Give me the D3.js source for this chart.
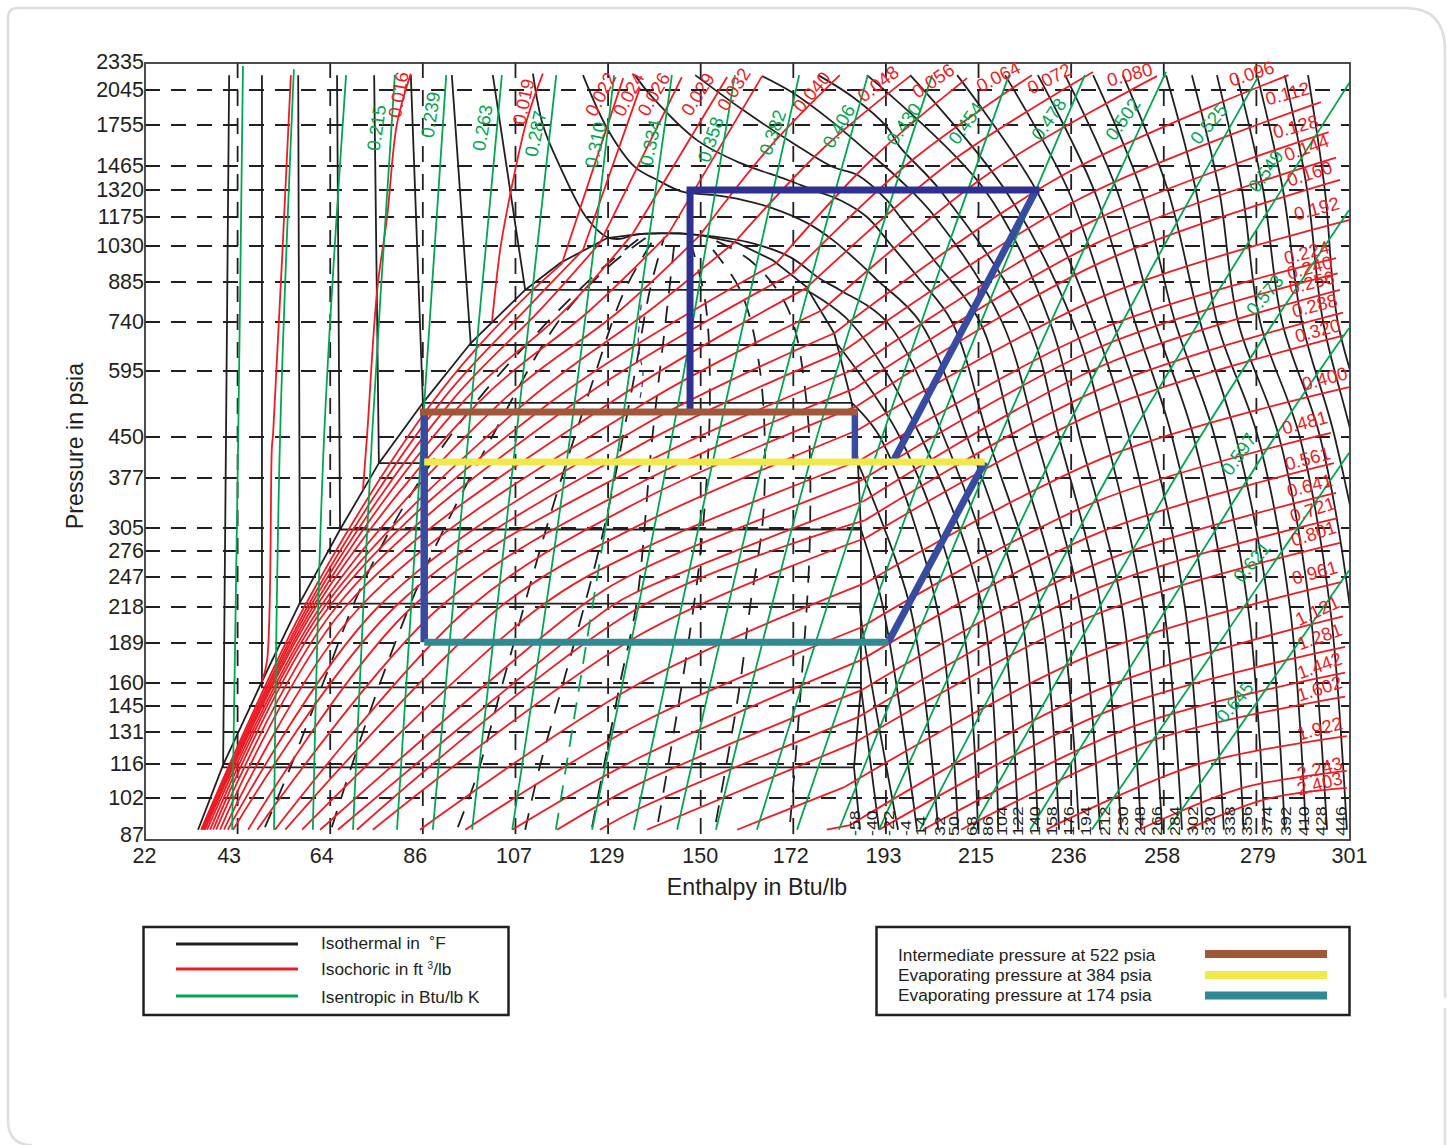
<!DOCTYPE html>
<html><head><meta charset="utf-8"><title>Pressure-enthalpy chart</title>
<script src="https://cdn.jsdelivr.net/npm/d3@7"></script>
<style>html,body{margin:0;padding:0;background:#fff}svg{display:block}text{font-family:"Liberation Sans",Arial,sans-serif;fill:#231f20}</style>
</head><body><svg id="c" width="1447" height="1145"></svg>
<script>
// ---------- axes ----------
const enthalpyRange = [22, 301];
const enthalpyTicks = [22,43.46,64.92,86.38,107.85,129.31,150.77,172.23,193.69,215.15,236.62,258.08,279.54,301];
const enthalpyLabels = ["22","43","64","86","107","129","150","172","193","215","236","258","279","301"];
const pressureTicks = [87,102,116,131,145,160,189,218,247,276,305,377,450,595,740,885,1030,1175,1320,1465,1755,2045,2335];

// ---------- saturation dome ----------
const domeH = [34.3,40.1,49.1,57.9,67.2,76.2,86.4,97.5,110.1,118.2,129.1,136.7,146,150.6,159.2,167.5,175.2,181.7,185.8,187.2,187.9,187.9,187.9,186.3];
const domeP = [89,115.6,161,222,303,402,520,674,854,959,1068,1088,1092,1082,1045,970,867,704,520,402,303,222,157,114.5];

// ---------- isotherms (deg F) ----------
const isoTemps = [-58,-40,-22,-4,14,32,50,68,86,104,122,140,158,176,194,212,230,248,266,284,302,320,338,356,374,392,410,428,446];
const plateauP = [114.5,157,221,303,402,520,668,854];
const liquidTopH = [41.5,49.1,57.5,66.5,75.1,83.6,93.1,102.6];
const liquidSatH = [40.1,49.1,57.9,67.2,76.2,86.4,97.5,110.1];
const vaporSatH = [186.3,187.9,187.9,187.9,187.2,185.8,182.6,175.2];
const vaporH89 = [187.7,192.1,196.5,200.9,205.8,210.4,215,219.7,224.3,228.9,233.8,238.4,243.3,248.2,252.8,257.7,262.3,267.1,272,276.6,281.5,286.1,291,295.9,300.5,305.4,310,314.7,319.3];
const vaporH218 = [null,null,187.7,193,199.3,205.5,210.8,216,220.1,224.8,229.4,234,238.7,243.5,248.4,253.3,258.1,263,267.8,272.7,277.6,282.4,287.3,291.9,296.6,301.2,305.4,310,314.7];
const vaporH450 = [null,null,null,null,null,192.3,196.9,201.8,207.1,212.5,217.3,223.1,228.5,233.8,238.6,244.7,250,254.9,260,265,269.9,274.8,279.9,284.8,289.6,294.3,297.7,301.7,305.8];
const vaporH740 = [null,null,null,null,null,null,null,185.4,193.9,201.6,209,215.5,220.6,226.4,231.7,237,241.7,246.3,251.4,256,260.7,266.5,270.4,275.3,280.4,285.5,290.1,295,298.4];
const vaporH1320 = [null,null,null,null,null,null,null,null,null,null,null,null,null,206.2,216.6,221.3,228.5,235.9,241.9,247.2,252.8,259,265.5,270.9,276.2,281.1,285.7,291.3,295.4];
const vaporH2194 = [null,null,null,null,null,null,null,null,null,null,null,null,null,null,189.3,199.3,210.2,221.3,228.9,235.2,241.7,248.6,258.6,264.6,270.4,275,279.7,286.1,291.5];
const iso86H = [111.9,114.2,118.2,124.2,129.1,132.1,135.1,141.3,150.6,161.5,171.5,178.4,183];
const iso86P = [2210,1755,1460,1175,1072,1064,1082,1092,1082,1049,983,897,854];
const iso104H = [123.5,129.3,135.5,140.6,146.7,153.6,160.6,167.5,175.4,181.4,187.7,191.6];
const iso104P = [2194,1717,1459,1380,1309,1292,1264,1220,1144,1058,956,893];
const iso122H = [135.5,139.7,149.9,159.9,170.8,176.8,183,189.3,194.5,201];
const iso122P = [2194,1975,1642,1485,1380,1320,1264,1175,1044,905];
const iso140H = [149.5,160.6,172.2,181.4,187,193.9,197,205.1];
const iso140P = [2194,1873,1620,1459,1410,1264,1175,965];
const iso158H = [165,172.2,180.7,189.3,196.9,205.1];
const iso158P = [2184,2018,1795,1564,1380,1175];
const iso176H = [178,186,193.9,196.9];
const iso176P = [2194,1983,1740,1594];

// ---------- isochores (ft3/lb) ----------
const isochoreLabels = ["0.022","0.024","0.026","0.029","0.032","0.040","0.048","0.056","0.064","0.072","0.080","0.096","0.112","0.128","0.144","0.160","0.192","0.224","0.240","0.256","0.288","0.320","0.400","0.481","0.561","0.641","0.721","0.801","0.961","1.121","1.281","1.442","1.602","1.922","2.243","2.403"];
const isoH89 = [35,35.2,35.5,35.7,35.9,36.4,37.1,37.8,38.5,39.4,40.3,41.2,42.4,45.9,48,52.1,54.5,58.4,62.6,66.7,71.1,74.8,85.7,96.2,107.1,117.5,127.4,138.3,159.2,180,192.1,202.3,211.1,230.8,252.3,263.4];
const isoH218 = [58.9,59.6,60.2,60.9,61.6,62.6,63.5,64.6,66.3,68.4,71.8,76,79.9,83.9,90.4,97.3,104.3,113.5,122.8,129.8];
const isoH520 = [88.5,90.4,92.7,95.5,99.2,104.3,110.1,115.8,121.6,129.8,137.9];
const isoH780 = [107.1,110.1,113.5,119.3,125.1,132.1,139];
const isoPAtH137 = [null,null,null,null,null,null,null,null,null,null,null,469,434.5,398,369,342,309,277,254,233.5,218,195.3,160,135.4,119,107.8,97.6];
const domeCrossH = [118.6,123.5,127.4,135.1,143.2,150.6,158.7,168.4,172.1,175.2,178.9,181.7,184.2,185.8,186.5,187,187.2,187.7,188.2,188.6,188.8,189,189,187.9,187.9,187.9,187.4,186.3,184.2,185.4];
const domeCrossP = [956,1013,1044,1091,1086,1082,1049,960,918,861,780,704,653,597,553,513,463.5,407,374,342,315,292,241,201,176,155,139,125.6,106.4,90.8];
const isoMidH = [null,null,null,null,null,166.8,179,190.5,199.8,208.4,217.7,234,239.4,241.1,242.2,242.9,244.1,242.8,243.3,243.8,244.2,244.6,245,242.4,242.7,242.9,242.9,242.6,241.8,242.5,246.1,251.2,255.6,265.6,276.4,282];
const isoMidP = [null,null,null,null,null,1594,1579,1511,1504,1485,1421,1398,1281,1148,1041,956,831,714,662,609,555,508,414,341,298,262,236,212,180.6,155,143,134,127,115.6,106,101.6];
const isoEndH = [132.8,136.7,146.4,156.9,165,183,199.3,212.5,227.5,241.7,256.5,287,294.5,296.3,298,298.9,301,298,298.4,298.9,299.6,300.1,301,296.8,297.5,298,298.4,298.9,299.4,299.6,300.1,300.1,300.1,300.5,300.5,300.5];
const isoEndP = [2163,2066,2174,2174,2184,2194,2184,2163,2194,2228,2184,2194,1940,1701,1520,1380,1159,979,918,854,772,698,556,458,402,354,318,286,242,210,186,167,151,129,113,106];
const liquidIso0H = [55.8,51.7,51.4,50.3,49.1];
const liquidIso0P = [2194,458,430,176,161];
const liquidIso016H = [83.6,80.4,78.1,75.8,73.5,72.5];
const liquidIso016P = [2210,1765,1175,854,458,358];
const liquidIso019H = [114.2,110.5,105.9,104.3,102.4];
const liquidIso019P = [2210,1795,1209,1013,740];

// ---------- isentropes (Btu/lb K) ----------
const isentropeLabels = ["","","","0.215","0.239","0.263","0.287","0.310","0.334","0.358","0.382","0.406","0.430","0.454","0.478","0.502","0.525","0.549","0.573","0.597","0.621","0.645"];
const entropyBottomH = [42.2,51.9,60.9,70.2,80.4,88.7,97.8,107.1,128.1,125.6,135.3,145.3,154.3,163.8,173.1,182.8,192.1,201.6,213.6,227.1,241.4,259];
const entropyBottomP = [89,89,89,89,89,89,89,89,286,89,89,89,89,89,89,89,89,89,89,89,89,89];
const entropyMidH = [43.6,53.3,63.5,74.6,86.2,96.9,108,120.5,132.1,144.1,154.8,166.6,177.7,192.8,205.1,220.1,234.5,250.3,266.5,283.8,null,null];
const entropyTopH = [44.7,56.5,68.6,79.9,91.8,104.7,117.3,130.7,144.1,158.7,173.6,189.5,204.4,222.2,239.8,258.6,279.9,301.6,301,301,301,301];
const entropyTopP = [2290,2257,2194,2194,2194,2194,2194,2194,2194,2194,2194,2194,2194,2194,2194,2228,2174,2150,1210,720,420,254];
const entropy334DashH = [117.2,128.1];
const entropy334DashP = [89,286];

// ---------- dashed quality lines inside the dome ----------
const qualityH = [
 [49.8,54.9,64.2,71.8,82.7,97.3,113.5,127.4,136.7],
 [65.3,69.5,77.6,88,102,118.2,129.8,138.6],
 [94.5,98.9,105.9,115.8,125.1,133.2,140.2],
 [110.1,113.5,118.9,128.1,134.8,139,142.3],
 [125.6,132.1,136,139.5,143.2,144.8],
 [140.9,147.4,151.1,152.9,151.8,148.3],
 [154.3,159.6,162.2,165.4,164.5,159.9,151.8],
 [171.5,173.5,176.1,175.2,170.8,162.2,154.1]];
const qualityP = [
 [90,111,167,234,342,505,714,929,1068],
 [90,113,169,267,444,750,950,1077],
 [90,111,170.8,320,549,854,1072],
 [89,115,160,298,549,854,1072],
 [90,160,224,444,814,1068],
 [92,178,294,530,814,1056],
 [92,154,218,333,597,854,1056],
 [92,139,298,530,791,970,1056]];
const thinBlueH = [137,136.3,137.4,136.7];
const thinBlueP = [800,668,585,530];

// ---------- refrigeration cycle ----------
const cycleTopH = [147.5,229.3], cycleTopP = [1320,1320];
const cycleUpH = [148.3,148.3], cycleUpP = [500,1320];
const cycleDisch1H = [228.5,195.3], cycleDisch1P = [1320,404];
const cycleDisch2H = [216.6,194.2], cycleDisch2P = [404,189.5];
const cycleLeftH = [86.7,86.7], cycleLeftP = [500,189.5];
const cycleShortH = [186.5,186.5], cycleShortP = [500,404];
const intermediateH = [85.7,187.2], intermediateP = 500;
const evap384H = [86.7,216.6], evap384P = 404;
const evap174H = [86.7,194.2], evap174P = 189.5;

// ---------- text ----------
const legendLeft = ["Isothermal in  \u02daF","Isochoric in ft ","Isentropic in Btu/lb K"];
const legendRight = ["Intermediate pressure at 522 psia","Evaporating pressure at 384 psia","Evaporating pressure at 174 psia"];

// ---------- layout of annotations (pixel placement, not data) ----------
const L={left:145,right:1349,top:62,bottom:835,frameBottom:840};
const BLACK="#231f20",RED="#ed1c24",GREEN="#00a651",BLUE="#2e3192",BLUE2="#374ba0",BROWN="#a0573a",YELLOW="#f1e94c",TEAL="#2f8a93";
const xLabelNudge=[-1,-9,-9,-8,-2,-2,-1,-3,-3,-3,-3,-2,1,0];
const tempLabelX=[854,871,888,905,920,939,953,971,987,1001,1017,1034,1051,1068,1085,1104,1122,1139,1156,1174,1192,1209,1229,1246,1266,1285,1303,1320,1340];
const redLabelPos=[[400,95,-80],[525,102,-78],[602,95,-63],[630,95,-62],[655,95,-60],[699,95,-58],[735,90,-58],[813,93,-50],[879,85,-38],[934,82,-34],[999,78,-27],[1050,80,-27],[1130,76,-15],[1252,75,-18],[1288,95,-15],[1296,128,-15],[1307,149,-20],[1310,175,-18],[1317,210,-15],[1307,254,-15],[1310,269,-15],[1312,284,-15],[1315,307,-15],[1318,332,-15],[1325,380,-15],[1305,424,-15],[1308,460,-15],[1310,487,-15],[1313,511,-18],[1314,535,-18],[1315,574,-15],[1318,612,-25],[1320,638,-20],[1320,667,-20],[1320,690,-18],[1320,730,-15],[1320,770,-15],[1320,785,-15]];
const greenLabelPos=[[378,128,-82],[432,115,-82],[484,128,-80],[537,134,-78],[597,145,-78],[652,143,-78],[712,140,-72],[774,133,-70],[840,127,-60],[905,125,-55],[967,124,-55],[1050,120,-55],[1124,120,-55],[1210,125,-50],[1267,172,-55],[1266,296,-50],[1240,455,-55],[1253,563,-50],[1236,703,-50]];

// ---------- scales ----------
const x=d3.scaleLinear().domain(enthalpyRange).range([L.left,L.right]);
const y=d3.scaleLog().domain(pressureTicks).range([835,798,764,732,706,683,643,607,577,551,528,478,437,371,322,282,246,217,190,166,125,90,62]);
const svg=d3.select("#c");
const smooth=d3.line().x(d=>x(d[0])).y(d=>y(d[1])).curve(d3.curveCatmullRom.alpha(0.5));
const straight=d3.line().x(d=>x(d[0])).y(d=>y(d[1]));
const zip=(h,p)=>h.map((v,i)=>[v,p[i]]);
const W=1.8;

// card outline
svg.append("path").attr("d","M8,1120 V18 Q8,8 18,8 H1405 Q1445,8 1445,50 V998 M1445,1008 V1145 M32,1145 Q8,1145 8,1120").attr("fill","none").attr("stroke","#dedede").attr("stroke-width",2.5);

svg.append("defs").append("clipPath").attr("id","plot").append("rect").attr("x",L.left).attr("y",L.top).attr("width",L.right-L.left+1).attr("height",L.frameBottom-L.top);
const plot=svg.append("g").attr("clip-path","url(#plot)");

// grid
const dashH=pressureTicks.slice(1,-1), dashV=enthalpyTicks.slice(1,-1);
plot.append("g").selectAll("line").data(dashH).join("line").attr("x1",L.left).attr("x2",L.right).attr("y1",d=>y(d)).attr("y2",d=>y(d)).attr("stroke",BLACK).attr("stroke-width",1.8).attr("stroke-dasharray","15 11");
plot.append("g").selectAll("line").data(dashV).join("line").attr("x1",d=>x(d)).attr("x2",d=>x(d)).attr("y1",L.top).attr("y2",L.frameBottom).attr("stroke",BLACK).attr("stroke-width",1.8).attr("stroke-dasharray","16 12");

function draw(g,pts,col,w,gen,dash){const p=g.append("path").attr("d",(gen||smooth)(pts)).attr("fill","none").attr("stroke",col).attr("stroke-width",w);if(dash)p.attr("stroke-dasharray",dash);return p;}

// black
const black=plot.append("g");
draw(black,zip(domeH,domeP),BLACK,W,straight);
plateauP.forEach((p,i)=>{draw(black,[[liquidTopH[i],2194],[liquidSatH[i],p],[vaporSatH[i],p]],BLACK,W,straight);});
isoTemps.forEach((t,i)=>{
  let pts=[];
  if(i<8) pts.push([vaporSatH[i],plateauP[i]]);
  const up={8:[iso86H,iso86P],9:[iso104H,iso104P],10:[iso122H,iso122P],11:[iso140H,iso140P],12:[iso158H,iso158P],13:[iso176H,iso176P]}[i];
  if(up) pts=pts.concat(zip(up[0],up[1]));
  if(vaporH2194[i]!=null) pts.push([vaporH2194[i],2194]);
  if(vaporH1320[i]!=null) pts.push([vaporH1320[i],1320]);
  if(vaporH740[i]!=null) pts.push([vaporH740[i],740]);
  if(vaporH450[i]!=null) pts.push([vaporH450[i],450]);
  if(vaporH218[i]!=null) pts.push([vaporH218[i],218]);
  pts.push([vaporH89[i],89]);
  draw(black,pts,BLACK,W);
});
qualityH.forEach((h,i)=>draw(black,zip(h,qualityP[i]),BLACK,W,smooth,"17 13"));
draw(black,zip(thinBlueH,thinBlueP),BLUE,1.2,smooth,"6 5");

// red
const red=plot.append("g");
[[liquidIso0H,liquidIso0P],[liquidIso016H,liquidIso016P],[liquidIso019H,liquidIso019P]].forEach(a=>draw(red,zip(a[0],a[1]),RED,W));
isochoreLabels.forEach((l,i)=>{
  const inner=[[isoH89[i],89]];
  if(isoH218[i]!=null) inner.push([isoH218[i],218]);
  if(isoPAtH137[i]!=null) inner.push([136.7,isoPAtH137[i]]);
  if(isoH520[i]!=null) inner.push([isoH520[i],520]);
  if(isoH780[i]!=null) inner.push([isoH780[i],780]);
  let outer;
  if(domeCrossH[i]!=null){inner.push([domeCrossH[i],domeCrossP[i]]);draw(red,inner,RED,W);outer=[[domeCrossH[i],domeCrossP[i]]];}
  else outer=inner;
  if(isoMidH[i]!=null) outer.push([isoMidH[i],isoMidP[i]]);
  outer.push([isoEndH[i],isoEndP[i]]);
  draw(red,outer,RED,W);
});

// green
const green=plot.append("g");
isentropeLabels.forEach((l,i)=>{
  const pts=[[entropyBottomH[i],entropyBottomP[i]]];
  if(entropyMidH[i]!=null) pts.push([entropyMidH[i],450]);
  pts.push([entropyTopH[i],entropyTopP[i]]);
  draw(green,pts,GREEN,W);
});
draw(green,zip(entropy334DashH,entropy334DashP),GREEN,W,straight,"17 11");

// cycle
const cyc=svg.append("g");
const thick=(h,p,c,w)=>draw(cyc,zip(h,p),c,w,straight);
thick(cycleLeftH,cycleLeftP,BLUE2,7.5);
thick(cycleShortH,cycleShortP,BLUE2,6.5);
thick(cycleUpH,cycleUpP,BLUE,7);
thick(cycleDisch1H,cycleDisch1P,BLUE2,7);
thick(cycleDisch2H,cycleDisch2P,BLUE2,7);
thick(cycleTopH,cycleTopP,BLUE,7);
thick(intermediateH,[intermediateP,intermediateP],BROWN,7);
thick(evap384H,[evap384P,evap384P],YELLOW,7);
thick(evap174H,[evap174P,evap174P],TEAL,7);

// frame
svg.append("rect").attr("x",L.left).attr("y",L.top+1).attr("width",L.right-L.left+1).attr("height",L.frameBottom-L.top-1).attr("fill","none").attr("stroke","#3a3a3a").attr("stroke-width",1.8);

// axes
const xAxis=svg.append("g").attr("transform",`translate(0,${L.frameBottom})`).call(d3.axisBottom(x).tickValues(enthalpyTicks).tickFormat((d,i)=>enthalpyLabels[i]).tickSize(0).tickPadding(8));
xAxis.select(".domain").remove();
xAxis.selectAll("text").attr("font-size",21.5).attr("dx",(d,i)=>xLabelNudge[i]).style("font-family",'"Liberation Sans"').attr("fill",BLACK);
const yAxis=svg.append("g").attr("transform",`translate(${L.left},0)`).call(d3.axisLeft(y).tickValues(pressureTicks).tickFormat(d3.format("d")).tickSize(0).tickPadding(1));
yAxis.select(".domain").remove();
yAxis.selectAll("text").attr("font-size",21.5).style("font-family",'"Liberation Sans"').attr("fill",BLACK);
svg.append("text").attr("x",757).attr("y",895).attr("text-anchor","middle").attr("font-size",23.2).text("Enthalpy in Btu/lb");
svg.append("text").attr("transform","translate(83,446) rotate(-90)").attr("text-anchor","middle").attr("font-size",23.2).text("Pressure in psia");

// temperature labels
svg.append("g").selectAll("text").data(isoTemps).join("text").attr("transform",(d,i)=>`translate(${tempLabelX[i]+5.5},836) rotate(-90) scale(1.15,1)`).attr("font-size",15.5).text(d=>d);

// red / green labels
const allRed=["0.016","0.019"].concat(isochoreLabels);
svg.append("g").selectAll("text").data(redLabelPos).join("text").attr("transform",d=>`translate(${d[0]},${d[1]}) rotate(${d[2]})`).attr("text-anchor","middle").attr("dominant-baseline","middle").attr("font-size",18.5).style("fill",RED).text((d,i)=>allRed[i]);
const greenTxt=isentropeLabels.slice(3);
svg.append("g").selectAll("text").data(greenLabelPos).join("text").attr("transform",d=>`translate(${d[0]},${d[1]}) rotate(${d[2]})`).attr("text-anchor","middle").attr("dominant-baseline","middle").attr("font-size",18.5).style("fill",GREEN).text((d,i)=>greenTxt[i]);

// legends
const lg=svg.append("g");
lg.append("rect").attr("x",143.5).attr("y",927).attr("width",365).attr("height",88).attr("fill","#fff").attr("stroke",BLACK).attr("stroke-width",2.5);
[[944,BLACK],[969,RED],[996,GREEN]].forEach((r,i)=>{
  lg.append("line").attr("x1",176).attr("x2",298).attr("y1",r[0]).attr("y2",r[0]).attr("stroke",r[1]).attr("stroke-width",3);
  const t=lg.append("text").attr("x",321).attr("y",[949,975,1003][i]).attr("font-size",17.3).style("white-space","pre").text(legendLeft[i]);
  if(i===1){t.append("tspan").attr("font-size",10).attr("dy",-6).text("3");t.append("tspan").attr("dy",6).text("/lb");}
});
lg.append("rect").attr("x",876.5).attr("y",927).attr("width",473).attr("height",88).attr("fill","#fff").attr("stroke",BLACK).attr("stroke-width",2.5);
[[954,BROWN],[975,YELLOW],[995.5,TEAL]].forEach((r,i)=>{
  lg.append("line").attr("x1",1205).attr("x2",1327).attr("y1",r[0]).attr("y2",r[0]).attr("stroke",r[1]).attr("stroke-width",8);
  lg.append("text").attr("x",898).attr("y",[961,981,1001][i]).attr("font-size",17.3).text(legendRight[i]);
});
</script></body></html>
